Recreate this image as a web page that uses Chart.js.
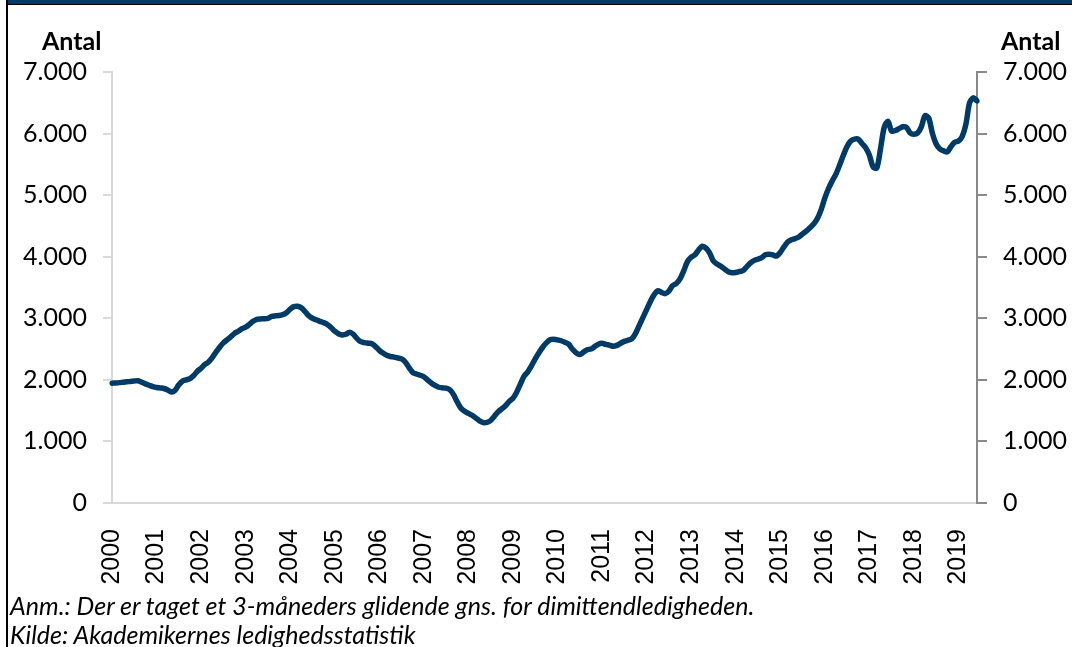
<!DOCTYPE html>
<html>
<head>
<meta charset="utf-8">
<script src="https://cdn.jsdelivr.net/npm/chart.js@4"></script>
<style>
  html, body { margin: 0; padding: 0; background: #fff; }
  body { width: 1072px; height: 647px; position: relative; overflow: hidden; }
  #wrap { position: absolute; left: 0; top: 0; width: 1072px; height: 647px; }
  .topband { position: absolute; left: 8px; top: 0; width: 1064px; height: 4px; background: #003a66; }
  .topline { position: absolute; left: 8px; top: 4px; width: 1064px; height: 1px; background: #000; }
  .leftline { position: absolute; left: 6px; top: 0; width: 2px; height: 647px; background: #000; }
  .antal { position: absolute; top: 25px; font-family: Lato, sans-serif; font-weight: bold; font-size: 25px; color: #000; }
  .note { position: absolute; left: 10px; font-family: Lato, sans-serif; font-style: italic; font-size: 25px; line-height: 30px; color: #000; white-space: nowrap; }
</style>
</head>
<body>
<div id="wrap"><canvas id="c" width="1072" height="647"></canvas></div>
<div class="topband"></div>
<div class="topline"></div>
<div class="leftline"></div>
<div class="antal" style="left:42px;">Antal</div>
<div class="antal" style="left:1001px;">Antal</div>
<div class="note" style="top:590px;">Anm.: Der er taget et 3-måneders glidende gns. for dimittendledigheden.</div>
<div class="note" style="top:619px;">Kilde: Akademikernes ledighedsstatistik</div>
<script>
// Monthly values (3-month moving average), Jan 2000 – Jun 2019
const v2000 = [1946, 1950, 1955, 1962, 1968, 1975, 1982, 1985, 1962, 1935, 1912, 1890];
const v2001 = [1875, 1868, 1860, 1835, 1802, 1830, 1920, 1980, 2000, 2020, 2070, 2140];
const v2002 = [2190, 2250, 2290, 2360, 2450, 2530, 2600, 2650, 2700, 2755, 2790, 2830];
const v2003 = [2855, 2900, 2950, 2984, 2990, 2992, 3000, 3030, 3040, 3045, 3060, 3090];
const v2004 = [3150, 3190, 3195, 3170, 3110, 3040, 3000, 2975, 2950, 2930, 2900, 2850];
const v2005 = [2790, 2750, 2730, 2740, 2775, 2740, 2670, 2620, 2605, 2595, 2585, 2540];
const v2006 = [2480, 2435, 2400, 2380, 2370, 2355, 2340, 2290, 2200, 2120, 2095, 2075];
const v2007 = [2050, 2000, 1950, 1910, 1880, 1870, 1866, 1840, 1760, 1640, 1540, 1490];
const v2008 = [1455, 1425, 1380, 1335, 1307, 1310, 1340, 1410, 1480, 1530, 1580, 1650];
const v2009 = [1700, 1800, 1930, 2060, 2130, 2230, 2340, 2440, 2530, 2600, 2650, 2660];
const v2010 = [2650, 2635, 2610, 2580, 2500, 2440, 2410, 2450, 2490, 2500, 2540, 2580];
const v2011 = [2595, 2575, 2565, 2545, 2560, 2595, 2625, 2645, 2665, 2750, 2880, 3010];
const v2012 = [3140, 3270, 3380, 3445, 3420, 3400, 3440, 3530, 3565, 3640, 3770, 3920];
const v2013 = [3990, 4030, 4110, 4170, 4140, 4060, 3930, 3880, 3845, 3800, 3755, 3740];
const v2014 = [3745, 3760, 3775, 3840, 3900, 3940, 3960, 3985, 4030, 4040, 4030, 4010];
const v2015 = [4070, 4160, 4240, 4275, 4295, 4320, 4370, 4415, 4470, 4530, 4620, 4760];
const v2016 = [4950, 5108, 5230, 5340, 5490, 5648, 5790, 5880, 5910, 5910, 5840, 5770];
const v2017 = [5650, 5460, 5440, 5750, 6100, 6200, 6040, 6050, 6080, 6110, 6100, 6010];
const v2018 = [5990, 6010, 6110, 6290, 6250, 6000, 5830, 5750, 5720, 5702, 5790, 5860];
const v2019 = [5880, 5950, 6150, 6500, 6580, 6530];

const years = [2000, 2001, 2002, 2003, 2004, 2005, 2006, 2007, 2008, 2009,
               2010, 2011, 2012, 2013, 2014, 2015, 2016, 2017, 2018, 2019];
const yearValues = [v2000, v2001, v2002, v2003, v2004, v2005, v2006, v2007, v2008, v2009,
                    v2010, v2011, v2012, v2013, v2014, v2015, v2016, v2017, v2018, v2019];
const yTicks = [0, 1000, 2000, 3000, 4000, 5000, 6000, 7000];

const categories = [];
const values = [];
years.forEach((yr, i) => {
  yearValues[i].forEach((v, m) => {
    categories.push(yr + '-' + String(m + 1).padStart(2, '0'));
    values.push(v);
  });
});

function fmt(v) {
  return String(v).replace(/\B(?=(\d{3})+(?!\d))/g, '.');
}

const navy = '#003a66';
const lightAxis = '#d9d9d9';
const darkAxis = '#898989';

new Chart(document.getElementById('c'), {
  type: 'line',
  data: {
    labels: categories,
    datasets: [{
      data: values,
      borderColor: navy,
      borderWidth: 5.5,
      pointRadius: 0,
      tension: 0.3,
      fill: false,
      yAxisID: 'y',
      borderCapStyle: 'round',
      borderJoinStyle: 'round'
    }]
  },
  options: {
    responsive: false,
    animation: false,
    events: [],
    layout: { padding: { top: 72, left: 0, right: 0, bottom: 54 } },
    plugins: { legend: { display: false }, tooltip: { enabled: false } },
    scales: {
      x: {
        type: 'category',
        offset: false,
        grid: { display: false },
        border: { display: true, color: lightAxis, width: 2 },
        ticks: {
          autoSkip: false,
          minRotation: 90,
          maxRotation: 90,
          padding: 18,
          color: '#000',
          font: { family: '"Liberation Sans", Arial, sans-serif', size: 25 },
          callback: function (val, idx) {
            const lab = categories[idx];
            return lab.endsWith('-01') ? lab.slice(0, 4) : '';
          }
        },
        afterFit: function (s) { s.height = 90; }
      },
      y: {
        position: 'left',
        min: 0, max: 7000,
        afterBuildTicks: function (s) { s.ticks = yTicks.map(v => ({ value: v })); },
        grid: { drawOnChartArea: false, drawTicks: true, tickLength: 9, color: lightAxis, lineWidth: 2 },
        border: { display: true, color: lightAxis, width: 2 },
        ticks: {
          padding: 16,
          color: '#000',
          font: { family: 'Lato, sans-serif', size: 25 },
          callback: v => fmt(v)
        },
        afterFit: function (s) { s.width = 112; }
      },
      y2: {
        position: 'right',
        min: 0, max: 7000,
        afterBuildTicks: function (s) { s.ticks = yTicks.map(v => ({ value: v })); },
        grid: { drawOnChartArea: false, drawTicks: true, tickLength: 10, color: darkAxis, lineWidth: 2 },
        border: { display: true, color: darkAxis, width: 2 },
        ticks: {
          padding: 16,
          color: '#000',
          font: { family: 'Lato, sans-serif', size: 25 },
          callback: v => fmt(v)
        },
        afterFit: function (s) { s.width = 95; }
      }
    }
  }
});
</script>
</body>
</html>
